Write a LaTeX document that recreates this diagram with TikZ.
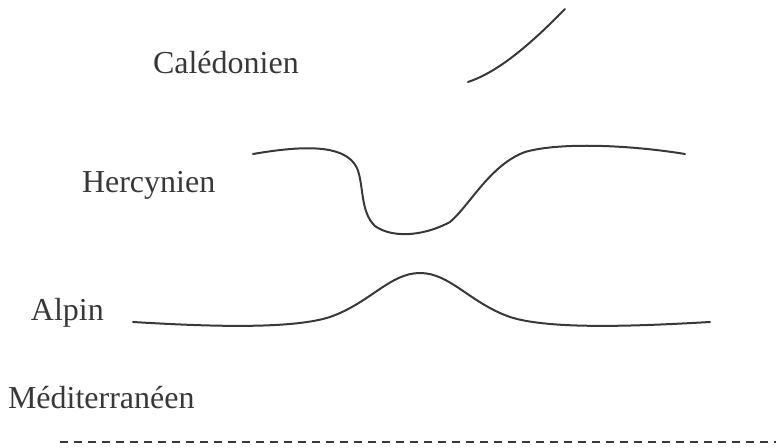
\documentclass[tikz,border=0pt]{standalone}
\usepackage{fontspec}
\setmainfont{Liberation Serif}
\usetikzlibrary{positioning}
\definecolor{encre}{gray}{0.22}

\begin{document}
\begin{tikzpicture}[x=0.75pt, y=-0.75pt, line width=1.5pt, color=encre,
    label/.style={anchor=base west, inner sep=0pt, font=\fontsize{24}{28}\selectfont},
    profil/.style={line cap=round, line join=round}]
  \useasboundingbox (0,0) rectangle (776,448);
  % ===== Calédonien =====
  \node[label] (cal) at (152,73.5) {Calédonien};
  \draw[profil] (468,82) .. controls (495,73) and (525,50) .. (565,9);
  % ===== Hercynien =====
  \node[label] (her) at (81,193) {Hercynien};
  \draw[profil] (253,154) .. controls (300,146) and (345,143) .. (357,168)
    .. controls (364,185) and (360,212) .. (375,226)
    .. controls (390,237) and (420,238) .. (450,222)
    .. controls (470,205) and (490,165) .. (525,152)
    .. controls (560,142) and (630,145) .. (685,154);
  % ===== Alpin =====
  \node[label] (alp) at (30,321) {Alpin};
  \draw[profil] (133,322) .. controls (200,326) and (290,330) .. (330,317)
    .. controls (370,303) and (390,273) .. (420,273)
    .. controls (450,273) and (470,303) .. (510,317)
    .. controls (550,330) and (640,326) .. (710,322);
  % ===== Méditerranéen =====
  \node[label] (med) at (7,409) {Méditerranéen};
  \draw[dash pattern=on 6pt off 4.5pt] (60,442) -- (776,442);
\end{tikzpicture}
\end{document}
